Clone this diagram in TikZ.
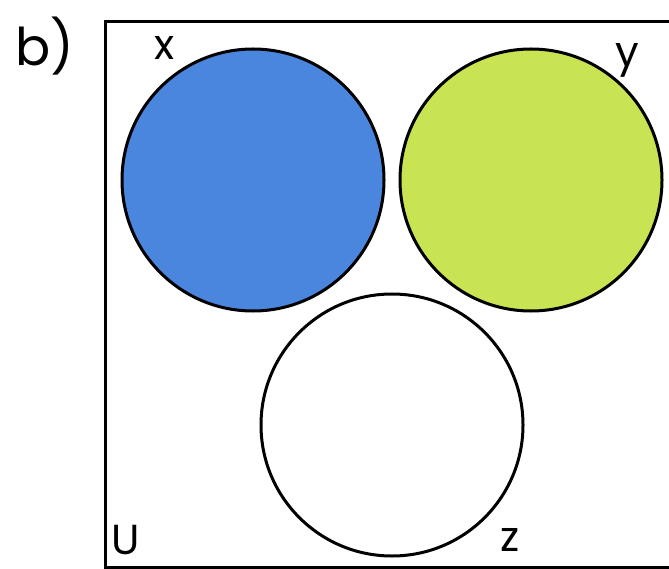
\documentclass[tikz,border=0pt]{standalone}
\usepackage{fontspec}
\setmainfont{Poppins}
\usetikzlibrary{positioning}

\definecolor{setblue}{RGB}{74,134,222}
\definecolor{setgreen}{RGB}{200,228,82}

\begin{document}
\begin{tikzpicture}[
    x=1pt, y=-1pt,
    set/.style={circle, draw, line width=3pt, minimum size=262pt, inner sep=0pt},
    lbl/.style={font=\fontsize{42}{42}\selectfont, inner sep=0pt},
    frame/.style={draw, line width=3pt}
]
    \clip (0,0) rectangle (669,569);
    \fill[white] (0,0) rectangle (669,569);

    % Universe
    \draw[frame] (105,22) rectangle (700,567);

    % Sets
    \node[set, fill=setblue]  (X) at (253,180) {};
    \node[set, fill=setgreen] (Y) at (531,180) {};
    \node[set, fill=white]    (Z) at (392,425) {};

    % Names
    \node[lbl, font=\fontsize{52}{52}\selectfont] (part) at (45,46) {b)};
    \node[lbl] (xname) at (165,48) {x};
    \node[lbl] (yname) at (627,60) {y};
    \node[lbl] (uname) at (126,540) {U};
    \node[lbl] (zname) at (510,540) {z};
\end{tikzpicture}
\end{document}
